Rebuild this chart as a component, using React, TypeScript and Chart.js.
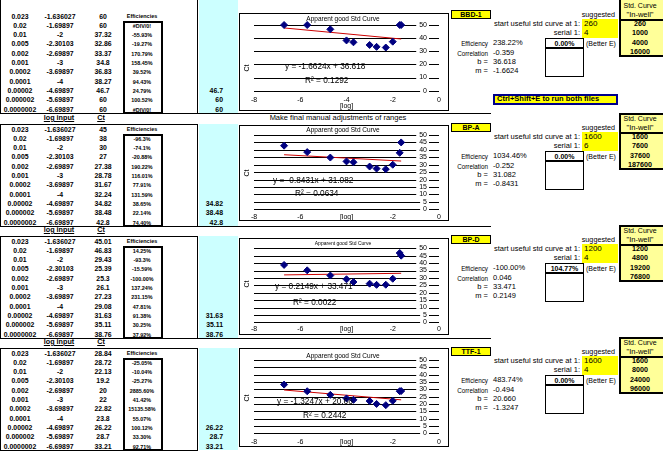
import React, { useEffect, useRef } from "react";
import { Chart, registerables } from "chart.js";

Chart.register(...registerables);

// ---------------- data ----------------
const inputAmounts = ["0.023", "0.02", "0.01", "0.005", "0.002", "0.001", "0.0002", "0.0001", "0.00002", "0.000002", "0.0000002"];
const logInput = [-1.636027, -1.69897, -2, -2.30103, -2.69897, -3, -3.69897, -4, -4.69897, -5.69897, -6.69897];

const ctBBD1 = [60, 60, 37.32, 32.86, 33.37, 34.8, 36.83, 38.27, 46.7, 60, 60];
const ctBPA = [45, 38, 30, 27, 27.38, 28.78, 31.67, 32.24, 34.82, 38.48, 42.8];
const ctBPD = [45.01, 46.83, 29.43, 25.39, 25.3, 26.1, 27.23, 29.08, 31.63, 35.11, 38.76];
const ctTTF1 = [28.84, 28.72, 22.13, 19.2, 20, 22, 22.82, 23.8, 26.22, 28.7, 33.21];

const effBBD1 = ["#DIV/0!", "-55.93%", "-19.27%", "170.79%", "158.45%", "39.52%", "94.43%", "24.79%", "100.52%", "#DIV/0!"];
const effBPA = ["-96.3%", "-74.1%", "-20.88%", "190.22%", "116.01%", "77.91%", "131.59%", "38.65%", "22.14%", "74.40%"];
const effBPD = ["14.25%", "-93.3%", "-15.59%", "-100.00%", "137.24%", "231.15%", "47.81%", "91.38%", "30.25%", "37.92%"];
const effTTF1 = ["-25.05%", "-10.04%", "-25.27%", "2885.60%", "41.42%", "15135.58%", "55.07%", "100.12%", "33.30%", "92.71%"];

const stdBBD1 = ["260", "1000", "4000", "16000"];
const stdBPA = ["1600", "7600", "37600", "187600"];
const stdBPD = ["1200", "4800", "19200", "76800"];
const stdTTF1 = ["1600", "8000", "24000", "96000"];

const sampleNames = ["BBD-1", "BP-A", "BP-D", "TTF-1"];
const slopes = [-1.6624, -0.8431, 0.2149, -1.3247];
const intercepts = [36.618, 31.082, 33.471, 20.66];
const rSquared = ["0.1292", "0.0634", "0.0022", "0.2442"];
const efficiencyText = ["238.22%", "1034.46%", "-100.00%", "483.74%"];
const correlationText = ["-0.359", "-0.252", "0.046", "-0.494"];
const interceptText = ["36.618", "31.082", "33.471", "20.660"];
const startAt = ["260", "1600", "1200", "1600"];
const serialDilution = ["4", "6", "4", "4"];
const betterE = ["0.00%", "0.00%", "104.77%", "0.00%"];

const xTicks = [-8, -6, -4, -2, 0];
const yTickStep = [10, 5, 5, 5];
const Y_MAX = 50;
const chartTitle = "Apparent good Std Curve";

const CT = [ctBBD1, ctBPA, ctBPD, ctTTF1];
const EFF = [effBBD1, effBPA, effBPD, effTTF1];
const STD = [stdBBD1, stdBPA, stdBPD, stdTTF1];

// ---------------- layout ----------------
const FONT = '"Liberation Sans", Arial, Helvetica, sans-serif';
const BLOCK_Y = [0, 113, 225, 337];
const CHART_LEFT = 239;
const CHART_W = 210;
const CHART_GEOM = [
  { top: 13, h: 98, padTop: 12, padBottom: 20.3, tickY: 87, logY: 93.5, titleY: 6, titleSize: 6.5, ctY: 55, eqX: 46, eqY: 53, r2X: 66, r2Y: 67 },
  { top: 125, h: 96, padTop: 10, padBottom: 11.7, tickY: 92, logY: 92, titleY: 5.7, titleSize: 6.5, ctY: 48, eqX: 34, eqY: 55.7, r2X: 56, r2Y: 68.3 },
  { top: 238, h: 97, padTop: 10.3, padBottom: 12.7, tickY: 91, logY: 91, titleY: 6, titleSize: 5, ctY: 46, eqX: 36, eqY: 48.7, r2X: 54, r2Y: 64.3 },
  { top: 348, h: 99, padTop: 12, padBottom: 13.7, tickY: 94, logY: 94, titleY: 8, titleSize: 6.5, ctY: 50, eqX: 38, eqY: 53, r2X: 64, r2Y: 67 },
];

function drawText(
  ctx: CanvasRenderingContext2D,
  s: string,
  x: number,
  y: number,
  size: number,
  align: CanvasTextAlign,
  opts: { bold?: boolean; sx?: number; rotate?: number } = {}
) {
  ctx.save();
  ctx.translate(x, y);
  if (opts.rotate) ctx.rotate(opts.rotate);
  ctx.scale(opts.sx ?? 1, 1);
  ctx.font = `${opts.bold ? "bold " : ""}${size}px ${FONT}`;
  ctx.textAlign = align;
  ctx.textBaseline = "middle";
  ctx.fillStyle = "#000";
  ctx.fillText(s, 0, 0);
  ctx.restore();
}

function StdChart({ k }: { k: number }) {
  const ref = useRef<HTMLCanvasElement>(null);
  const g = CHART_GEOM[k];
  useEffect(() => {
    if (!ref.current) return;
    const ct = CT[k];
    const points = logInput.map((x, i) => ({ x, y: Math.min(ct[i], Y_MAX) }));
    const xMin = Math.min(...logInput);
    const xMax = Math.max(...logInput);
    const trend = [xMin, xMax].map((x) => ({ x, y: slopes[k] * x + intercepts[k] }));

    const decor = {
      id: "excelDecor",
      beforeDatasetsDraw(chart: any) {
        const { ctx, scales } = chart;
        const xs = scales.x;
        const ys = scales.y;
        const x0 = Math.round(xs.getPixelForValue(xTicks[0]));
        const x1 = Math.round(xs.getPixelForValue(xTicks[xTicks.length - 1]));
        ctx.save();
        ctx.strokeStyle = "#000";
        ctx.lineWidth = 1;
        const step = yTickStep[k];
        for (let v = 0; v <= Y_MAX; v += step) {
          const py = Math.round(ys.getPixelForValue(v)) + 0.5;
          ctx.beginPath();
          ctx.moveTo(x0, py);
          ctx.lineTo(x1, py);
          ctx.stroke();
        }
        ctx.font = `7px ${FONT}`;
        for (let v = 0; v <= Y_MAX; v += step) {
          const py = ys.getPixelForValue(v);
          const label = String(v);
          const w = ctx.measureText(label).width;
          const rx = x1 - 12;
          ctx.fillStyle = "#fff";
          ctx.fillRect(rx - w - 3, py - 4, w + 5, 8);
          drawText(ctx, label, rx, py, 7, "right");
        }
        xTicks.forEach((v) => {
          if (k > 0 && v === -4) return;
          drawText(ctx, String(v), xs.getPixelForValue(v), g.tickY, 7, "center");
        });
        drawText(ctx, "[log]", xs.getPixelForValue(-4), g.logY, 7, "center");
        drawText(ctx, chartTitle, 104, g.titleY, g.titleSize, "center");
        drawText(ctx, "Ct", 8, g.ctY, 7, "center", { rotate: -Math.PI / 2 });
        ctx.restore();
      },
      afterDatasetsDraw(chart: any) {
        const { ctx } = chart;
        drawText(ctx, `y = ${slopes[k]}x + ${intercepts[k]}`, g.eqX, g.eqY, 9.5, "left", { sx: 0.87 });
        drawText(ctx, `R\u00B2 = ${rSquared[k]}`, g.r2X, g.r2Y, 9.5, "left", { sx: 0.87 });
      },
      afterDraw(chart: any) {
        const { ctx, width, height } = chart;
        ctx.save();
        ctx.strokeStyle = "#000";
        ctx.lineWidth = 1;
        ctx.strokeRect(0.5, 0.5, width - 1, height - 1);
        ctx.restore();
      },
    };

    const chart = new Chart(ref.current, {
      type: "scatter",
      data: {
        datasets: [
          {
            data: points,
            pointStyle: "rectRot",
            pointRadius: 3.5,
            backgroundColor: "#000080",
            borderColor: "#000080",
            borderWidth: 1,
            clip: false,
            order: 0,
          } as any,
          {
            type: "line",
            data: trend,
            borderColor: "#cc0000",
            borderWidth: 1,
            pointRadius: 0,
            showLine: true,
            clip: false,
            order: 1,
          } as any,
        ],
      },
      options: {
        animation: false,
        responsive: false,
        events: [],
        layout: { padding: { left: 15, right: 10, top: g.padTop, bottom: g.padBottom } },
        plugins: { legend: { display: false }, tooltip: { enabled: false } },
        scales: {
          x: { type: "linear", min: xTicks[0], max: xTicks[xTicks.length - 1], display: false },
          y: { type: "linear", min: 0, max: Y_MAX, display: false },
        },
      },
      plugins: [decor as any],
    });
    return () => chart.destroy();
  }, [k]);
  return (
    <canvas
      ref={ref}
      width={CHART_W}
      height={g.h}
      style={{ position: "absolute", left: CHART_LEFT, top: g.top, width: CHART_W, height: g.h }}
    />
  );
}

type TP = {
  x: number;
  y: number;
  s: string;
  size?: number;
  bold?: boolean;
  align?: "left" | "center" | "right";
  sx?: number;
  color?: string;
  underline?: boolean;
};
function T({ x, y, s, size = 8, bold = false, align = "left", sx = 1, color = "#000", underline = false }: TP) {
  const tx = align === "left" ? "0%" : align === "center" ? "-50%" : "-100%";
  return (
    <div
      style={{
        position: "absolute",
        left: x,
        top: y,
        transform: `translate(${tx}, -50%) scaleX(${sx})`,
        transformOrigin: `${align} center`,
        fontSize: size,
        fontWeight: bold ? 700 : 400,
        lineHeight: 1,
        whiteSpace: "nowrap",
        color,
        textDecoration: underline ? "underline" : "none",
        fontFamily: FONT,
      }}
    >
      {s}
    </div>
  );
}

function Box({ x, y, w, h, bg = "transparent", border = "1px solid #000" }: { x: number; y: number; w: number; h: number; bg?: string; border?: string }) {
  return (
    <div style={{ position: "absolute", left: x, top: y, width: w, height: h, background: bg, border, boxSizing: "border-box" }} />
  );
}

function Block({ k }: { k: number }) {
  const B = BLOCK_Y[k];
  const rowY = (i: number) => B + 16.5 + i * 9.3;
  const ct = CT[k];
  const eff = EFF[k];
  const std = STD[k];
  const tableTop = k === 0 ? -2 : B + 11;
  return (
    <>
      {/* left table */}
      <Box x={199} y={k === 0 ? 0 : B + 11} w={39} h={k === 0 ? 113 : 102} bg="#ccffff" border="none" />
      <Box x={0} y={tableTop} w={198} h={B + 113 - tableTop + 1} />
      {k < 3 && <Box x={0} y={B + 112.5} w={491} h={1} bg="#000" border="none" />}
      <Box x={123} y={B + 21} w={40} h={93} border="2px solid #000" />
      {k > 0 && <T x={59} y={B + 5} s="log input" size={8} bold align="center" sx={0.9} underline />}
      {k > 0 && <T x={100.5} y={B + 5} s="Ct" size={8} bold align="center" sx={0.9} underline />}
      {inputAmounts.map((s, i) => (
        <T key={"a" + i} x={20} y={rowY(i)} s={s} size={8} bold align="center" sx={0.86} />
      ))}
      {logInput.map((v, i) => (
        <T key={"l" + i} x={59.5} y={rowY(i)} s={String(v)} size={8} bold align="center" sx={0.86} />
      ))}
      {ct.map((v, i) => (
        <T key={"c" + i} x={102.5} y={rowY(i)} s={String(v)} size={8} bold align="center" sx={0.86} />
      ))}
      <T x={142} y={rowY(0)} s="Efficiencies" size={5.5} bold align="center" />
      {eff.map((s, i) => (
        <T key={"e" + i} x={142} y={rowY(i + 1)} s={s} size={6} bold align="center" sx={0.9} />
      ))}
      {ct.slice(8).map((v, i) => (
        <T key={"q" + i} x={223} y={rowY(8 + i)} s={String(v)} size={8} bold align="right" sx={0.86} />
      ))}

      {/* chart */}
      <StdChart k={k} />

      {/* right panel */}
      <Box x={451} y={B + 9.5} w={40} h={9.5} bg="#ffff00" />
      <T x={471} y={B + 14.3} s={sampleNames[k]} size={7} bold align="center" />
      <T x={615} y={B + 15} s="suggested" size={8} align="right" sx={0.9} />
      <Box x={582} y={B + 19} w={36} h={19} bg="#ffff00" border="none" />
      <T x={580} y={B + 24} s="start useful std curve at 1:" size={8} align="right" sx={0.94} />
      <T x={584} y={B + 24} s={startAt[k]} size={8} />
      <T x={580} y={B + 33} s="serial 1:" size={8} align="right" sx={0.94} />
      <T x={584} y={B + 33} s={serialDilution[k]} size={8} />

      <Box x={619} y={k === 0 ? -2 : B} w={50} h={k === 0 ? 59 : 57} bg="#ffff99" border="2px solid #000" />
      <Box x={619} y={B + 18.5} w={50} h={2} bg="#000" border="none" />
      <T x={640} y={B + 5} s="Std. Curve" size={7} align="center" />
      <T x={640} y={B + 14.5} s={'"In-well"'} size={7.5} align="center" />
      {std.map((s, i) => (
        <T key={"s" + i} x={640} y={B + 24 + i * 9.3} s={s} size={7.5} bold align="center" sx={0.95} />
      ))}

      <T x={488} y={B + 43} s="Efficiency" size={7} align="right" sx={0.9} />
      <T x={493} y={B + 43} s={efficiencyText[k]} size={7.5} />
      <T x={488} y={B + 53} s="Correlation" size={7} align="right" sx={0.9} />
      <T x={493} y={B + 53} s={correlationText[k]} size={7.5} />
      <T x={488} y={B + 62} s="b =" size={7.5} align="right" />
      <T x={493} y={B + 62} s={interceptText[k]} size={7.5} />
      <T x={488} y={B + 71} s="m =" size={7.5} align="right" />
      <T x={493} y={B + 71} s={String(slopes[k])} size={7.5} />

      <Box x={545} y={B + 38} w={39} h={39} bg="#fff" />
      <Box x={545} y={B + 46.5} w={39} h={2} bg="#000" border="none" />
      <T x={564.5} y={B + 43} s={betterE[k]} size={7} bold align="center" />
      <T x={586} y={B + 43} s="(Better E)" size={7} />
    </>
  );
}

export default function App() {
  return (
    <div
      style={{
        position: "fixed",
        left: 0,
        top: 0,
        width: 663,
        height: 452,
        overflow: "hidden",
        background: "#fff",
        fontFamily: FONT,
      }}
    >
      {[0, 1, 2, 3].map((k) => (
        <Block key={k} k={k} />
      ))}
      <T x={338} y={118} s="Make final manual adjustments of ranges" size={7.5} align="center" />
      <Box x={493} y={94} w={125} h={10.5} bg="#ffff00" border="2px solid #00008b" />
      <T x={497} y={99.3} s="Ctrl+Shift+E to run both files" size={7.5} bold />
    </div>
  );
}
